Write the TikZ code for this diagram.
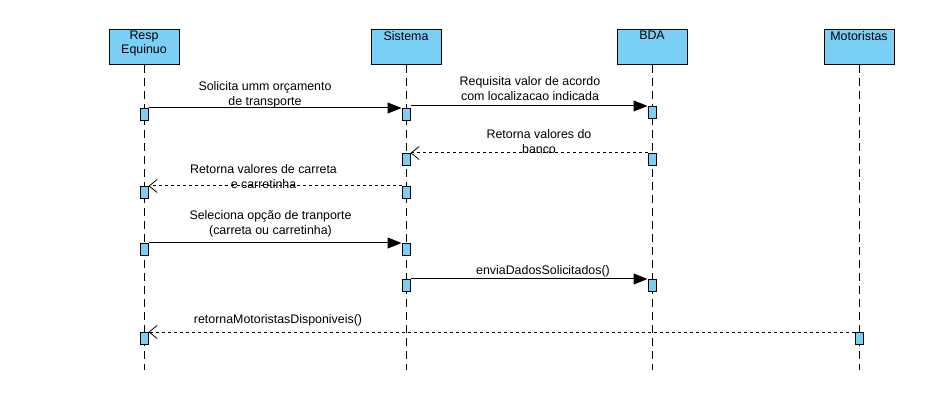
\documentclass[tikz,border=0pt]{standalone}
\usepackage{fontspec}
\setmainfont{Liberation Sans}
\usetikzlibrary{arrows.meta,calc}
\definecolor{actfill}{RGB}{122,207,245}
\tikzset{
  hdr/.style={draw=black, fill=actfill, minimum width=70pt, minimum height=35pt, inner sep=0pt, line width=1pt, anchor=north},
  hdrtext/.style={anchor=north, align=center, inner sep=0pt, font=\fontsize{12.4}{14}\selectfont},
  lifeline/.style={dash pattern=on 8pt off 5pt, line width=1pt},
  act/.style={draw=black, fill=actfill, minimum width=8pt, minimum height=12pt, inner sep=0pt, anchor=north, line width=1pt},
  callmsg/.style={-{Triangle[length=14pt,width=11pt]}, line width=1pt},
  retmsg/.style={-{Straight Barb[length=8pt,width=13pt,line width=0.8pt]}, dash pattern=on 3pt off 3pt, line width=1pt},
  msgtext/.style={align=center, inner sep=0pt, font=\fontsize{12.4}{15}\selectfont},
}
\begin{document}
\begin{tikzpicture}[x=1pt,y=-1pt]
\useasboundingbox (0,0) rectangle (952,411);
% headers
\node[hdr] (resp) at (144,29) {};
\node[hdr] (sis) at (406,29) {};
\node[hdr] (bda) at (652,29) {};
\node[hdr] (mot) at (859,29) {};
\node[hdrtext] (tresp) at ($(resp.north)+(0,2)$) {Resp\\Equinuo};
\node[hdrtext] (tsis) at ($(sis.north)+(0,2)$) {Sistema};
\node[hdrtext] (tbda) at ($(bda.north)+(0,2)$) {BDA};
\node[hdrtext] (tmot) at ($(mot.north)+(0,2)$) {Motoristas};
% lifeline ends
\coordinate (respEnd) at (144,370);
\coordinate (sisEnd) at (406,370);
\coordinate (bdaEnd) at (652,370);
\coordinate (motEnd) at (859,370);
\draw[lifeline] (resp.south) -- (respEnd);
\draw[lifeline] (sis.south) -- (sisEnd);
\draw[lifeline] (bda.south) -- (bdaEnd);
\draw[lifeline] (mot.south) -- (motEnd);
% activations
\node[act] (a1) at (144,108) {};
\node[act] (s1) at (406,108) {};
\node[act] (b1) at (652,106) {};
\node[act] (s2) at (406,153) {};
\node[act] (b2) at (652,153) {};
\node[act] (a2) at (144,186) {};
\node[act] (s3) at (406,186) {};
\node[act] (a3) at (144,243) {};
\node[act] (s4) at (406,243) {};
\node[act] (s5) at (406,279) {};
\node[act] (b3) at (652,279) {};
\node[act] (a4) at (144,332) {};
\node[act] (m1) at (859,332) {};
% messages
\draw[callmsg] (a1.north east) -- (s1.north west);
\draw[callmsg] (s1.east |- b1.north) -- (b1.north west);
\draw[retmsg] (b2.north west) -- (s2.north east);
\draw[retmsg] (s3.north west) -- (a2.north east);
\draw[callmsg] (a3.north east) -- (s4.north west);
\draw[callmsg] (s5.north east) -- (b3.north west);
\draw[retmsg] (m1.north west) -- (a4.north east);
% labels
\node[msgtext] (l1) at (265,94.5) {Solicita umm orçamento\\de transporte};
\node[msgtext] (l2) at (530,88.5) {Requisita valor de acordo\\com localizacao indicada};
\node[msgtext] (l3) at (539,141.5) {Retorna valores do\\banco};
\node[msgtext] (l4) at (263.5,177) {Retorna valores de carreta\\e carretinha};
\node[msgtext] (l5) at (270.5,224) {Seleciona opção de tranporte\\(carreta ou carretinha)};
\node[msgtext] (l6) at (543,271) {enviaDadosSolicitados()};
\node[msgtext] (l7) at (278,320) {retornaMotoristasDisponiveis()};
\end{tikzpicture}
\end{document}
